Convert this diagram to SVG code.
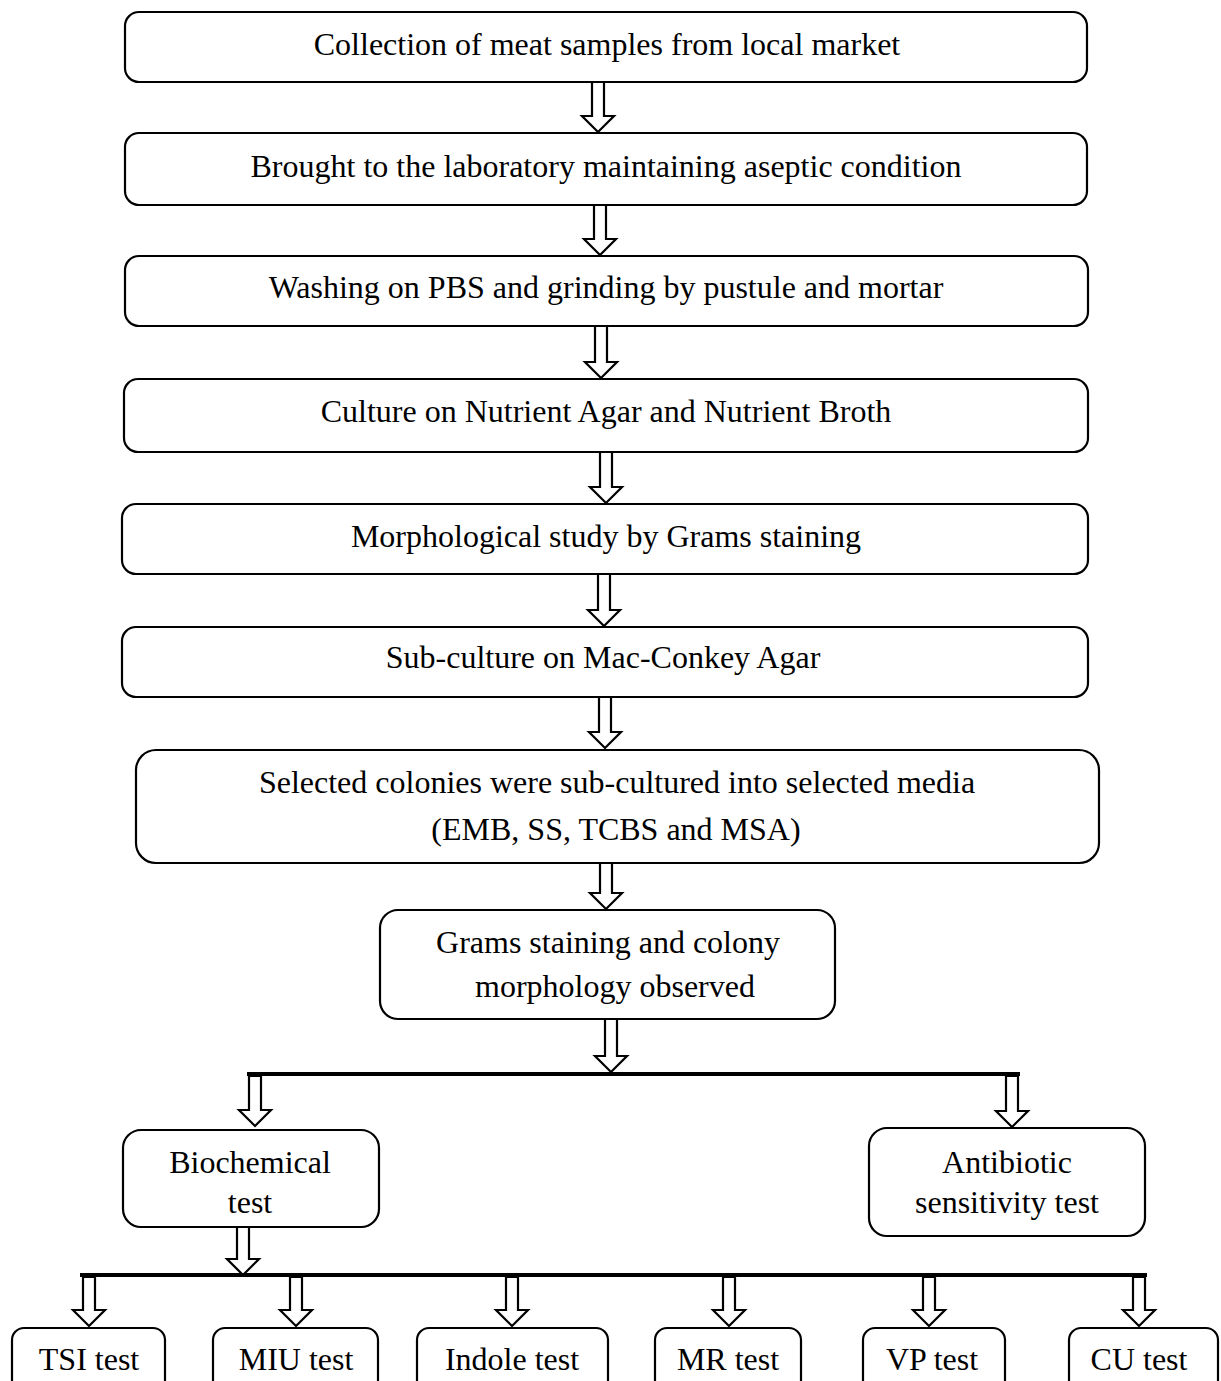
<svg xmlns="http://www.w3.org/2000/svg" width="1221" height="1381" viewBox="0 0 1221 1381">
<style>
.box{fill:#fff;stroke:#000;stroke-width:2.2}
.t{font-family:"Liberation Serif","Times New Roman",serif;font-size:32px;fill:#000;text-anchor:middle}
.arr{fill:#fff;stroke:#000;stroke-width:2.2;stroke-linejoin:miter}
.bar{stroke:#000;stroke-width:4;fill:none}
</style>
<rect width="1221" height="1381" fill="#fff"/>
<g id="connectors">
<line class="bar" x1="247" y1="1074" x2="1020" y2="1074"/>
<line class="bar" x1="80" y1="1275" x2="1147" y2="1275"/>
<polygon class="arr" points="592,82 604,82 604,116 614,116 598,132 582,116 592,116"/>
<polygon class="arr" points="594,205 606,205 606,239 616,239 600,255 584,239 594,239"/>
<polygon class="arr" points="595,326 607,326 607,362 617,362 601,378 585,362 595,362"/>
<polygon class="arr" points="600,452 612,452 612,487 622,487 606,503 590,487 600,487"/>
<polygon class="arr" points="598,574 610,574 610,610 620,610 604,626 588,610 598,610"/>
<polygon class="arr" points="599,697 611,697 611,732 621,732 605,748 589,732 599,732"/>
<polygon class="arr" points="600,863 612,863 612,893 622,893 606,909 590,893 600,893"/>
<polygon class="arr" points="605,1019 617,1019 617,1056 627,1056 611,1072 595,1056 605,1056"/>
<polygon class="arr" points="249,1076 261,1076 261,1110 271,1110 255,1126 239,1110 249,1110"/>
<polygon class="arr" points="1006,1076 1018,1076 1018,1111 1028,1111 1012,1127 996,1111 1006,1111"/>
<polygon class="arr" points="237,1227 249,1227 249,1259 259,1259 243,1275 227,1259 237,1259"/>
<polygon class="arr" points="83,1277 95,1277 95,1310 105,1310 89,1326 73,1310 83,1310"/>
<polygon class="arr" points="290,1277 302,1277 302,1310 312,1310 296,1326 280,1310 290,1310"/>
<polygon class="arr" points="506,1277 518,1277 518,1310 528,1310 512,1326 496,1310 506,1310"/>
<polygon class="arr" points="723,1277 735,1277 735,1310 745,1310 729,1326 713,1310 723,1310"/>
<polygon class="arr" points="923,1277 935,1277 935,1310 945,1310 929,1326 913,1310 923,1310"/>
<polygon class="arr" points="1133,1277 1145,1277 1145,1310 1155,1310 1139,1326 1123,1310 1133,1310"/>
</g>
<g id="n1"><rect class="box" x="125" y="12" width="962" height="70" rx="14"/><text class="t" x="607" y="55">Collection of meat samples from local market</text></g>
<g id="n2"><rect class="box" x="125" y="133" width="962" height="72" rx="14"/><text class="t" x="606" y="177">Brought to the laboratory maintaining aseptic condition</text></g>
<g id="n3"><rect class="box" x="125" y="256" width="963" height="70" rx="14"/><text class="t" x="606" y="298">Washing on PBS and grinding by pustule and mortar</text></g>
<g id="n4"><rect class="box" x="124" y="379" width="964" height="73" rx="14"/><text class="t" x="606" y="422">Culture on Nutrient Agar and Nutrient Broth</text></g>
<g id="n5"><rect class="box" x="122" y="504" width="966" height="70" rx="14"/><text class="t" x="606" y="547">Morphological study by Grams staining</text></g>
<g id="n6"><rect class="box" x="122" y="627" width="966" height="70" rx="14"/><text class="t" x="603" y="668">Sub-culture on Mac-Conkey Agar</text></g>
<g id="n7"><rect class="box" x="136" y="750" width="963" height="113" rx="20"/><text class="t" x="617" y="793">Selected colonies were sub-cultured into selected media</text><text class="t" x="616" y="840">(EMB, SS, TCBS and MSA)</text></g>
<g id="n8"><rect class="box" x="380" y="910" width="455" height="109" rx="18"/><text class="t" x="608" y="953">Grams staining and colony</text><text class="t" x="615" y="997">morphology observed</text></g>
<g id="n9"><rect class="box" x="123" y="1130" width="256" height="97" rx="18"/><text class="t" x="250" y="1173">Biochemical</text><text class="t" x="250" y="1213">test</text></g>
<g id="n10"><rect class="box" x="869" y="1128" width="276" height="108" rx="18"/><text class="t" x="1007" y="1173">Antibiotic</text><text class="t" x="1007" y="1213">sensitivity test</text></g>
<g id="n11"><rect class="box" x="12" y="1328" width="153" height="70" rx="12"/><text class="t" x="89" y="1370">TSI test</text></g>
<g id="n12"><rect class="box" x="213" y="1328" width="165" height="70" rx="12"/><text class="t" x="296" y="1370">MIU test</text></g>
<g id="n13"><rect class="box" x="417" y="1328" width="191" height="70" rx="12"/><text class="t" x="512" y="1370">Indole test</text></g>
<g id="n14"><rect class="box" x="655" y="1328" width="146" height="70" rx="12"/><text class="t" x="728" y="1370">MR test</text></g>
<g id="n15"><rect class="box" x="863" y="1328" width="142" height="70" rx="12"/><text class="t" x="932" y="1370">VP test</text></g>
<g id="n16"><rect class="box" x="1069" y="1328" width="149" height="70" rx="12"/><text class="t" x="1139" y="1370">CU test</text></g>
</svg>
